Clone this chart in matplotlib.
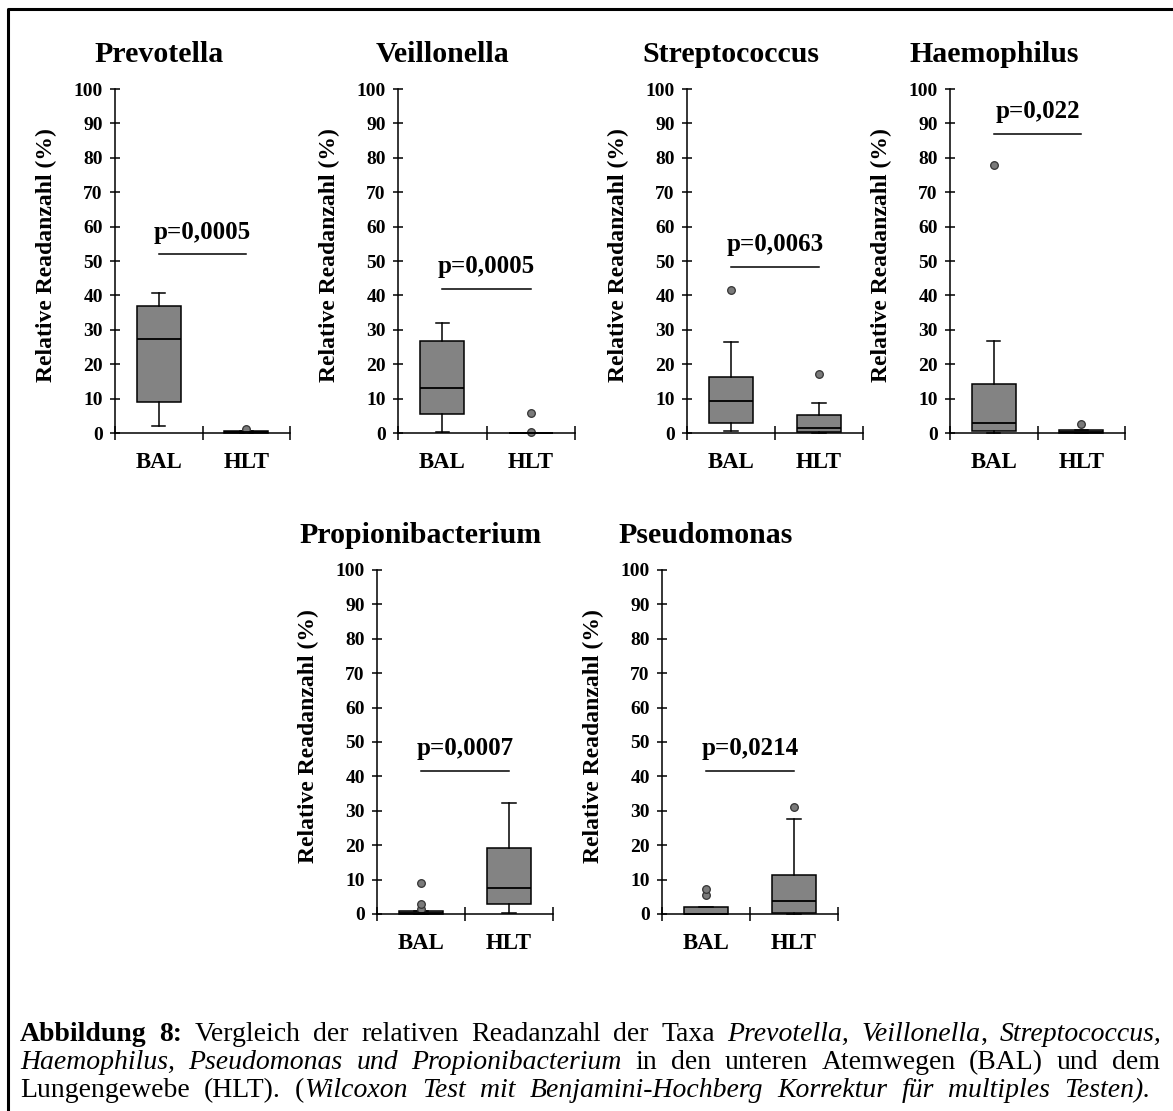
import matplotlib
matplotlib.use('Agg')
import matplotlib.pyplot as plt
from matplotlib.lines import Line2D
from matplotlib.transforms import blended_transform_factory

plt.rcParams['font.family'] = ['Liberation Serif', 'DejaVu Serif']

# ---------------- data ----------------
taxa = ["Prevotella", "Veillonella", "Streptococcus", "Haemophilus",
        "Propionibacterium", "Pseudomonas"]
groups = ["BAL", "HLT"]
p_labels = ["p=0,0005", "p=0,0005", "p=0,0063", "p=0,022", "p=0,0007", "p=0,0214"]
p_line_y = [52, 42, 48.3, 87, 41.6, 41.6]

# [whislo, q1, med, q3, whishi]
bal_stats = [
    [2.0, 9.1, 27.2, 36.9, 40.6],
    [0.3, 5.5, 13.2, 26.6, 31.9],
    [0.5, 2.9, 9.2, 16.3, 26.5],
    [0.0, 0.5, 3.0, 14.3, 26.7],
    [0.0, 0.0, 0.2, 1.0, 1.0],
    [0.0, 0.0, 0.1, 1.9, 1.9],
]
hlt_stats = [
    [0.0, 0.0, 0.2, 0.5, 0.5],
    [0.0, 0.0, 0.0, 0.0, 0.0],
    [0.0, 0.3, 1.4, 5.3, 8.7],
    [0.0, 0.0, 0.2, 1.0, 1.0],
    [0.4, 2.8, 7.6, 19.1, 32.4],
    [0.0, 0.3, 3.8, 11.3, 27.6],
]
bal_fliers = [[], [], [41.7], [78.0], [1.5, 3.0, 9.0], [5.4, 7.4]]
hlt_fliers = [[1.2], [0.3, 5.9], [17.2], [2.5], [], [31.0]]

yticks = list(range(0, 101, 10))
ylabel = "Relative Readanzahl (%)"

caption_lines = [
    [("Abbildung 8:", "b"), (" Vergleich der relativen Readanzahl der Taxa ", "r"),
     ("Prevotella, Veillonella", "i"), (", ", "r"), ("Streptococcus,", "i")],
    [("Haemophilus, Pseudomonas und Propionibacterium", "i"),
     (" in den unteren Atemwegen (BAL) und dem", "r")],
    [("Lungengewebe (HLT). (", "r"),
     ("Wilcoxon Test mit Benjamini-Hochberg Korrektur für multiples Testen).", "i")],
]

# ---------------- layout ----------------
W, H = 1173, 1111
fig = plt.figure(figsize=(W / 100, H / 100), dpi=100)

# (left px, y of zero px, width px)
axes_px = [(115, 433, 175), (398, 433, 177), (687, 433, 176), (950, 433, 175),
           (377, 914, 176), (662, 914, 176)]
AX_H = 344

for i, (x0, y0, w) in enumerate(axes_px):
    ax = fig.add_axes([x0 / W, 1 - y0 / H, w / W, AX_H / H])
    stats = []
    for s, fl, g in ((bal_stats[i], bal_fliers[i], groups[0]),
                     (hlt_stats[i], hlt_fliers[i], groups[1])):
        stats.append(dict(whislo=s[0], q1=s[1], med=s[2], q3=s[3], whishi=s[4],
                          fliers=fl, label=g))
    art = ax.bxp(stats, positions=[0.5, 1.5], widths=0.5, patch_artist=True,
                 showfliers=True, manage_ticks=False, capwidths=0.15,
                 boxprops=dict(facecolor='#838383', edgecolor='black', linewidth=1.1),
                 medianprops=dict(color='black', linewidth=1.3),
                 whiskerprops=dict(color='black', linewidth=1.1),
                 capprops=dict(color='black', linewidth=1.1),
                 flierprops=dict(marker='o', markersize=5.5, markerfacecolor='#7a7a7a',
                                 markeredgecolor='#333333', markeredgewidth=0.9))
    for k, lst in art.items():
        for a in lst:
            a.set_clip_on(False)

    ax.set_xlim(0, 2)
    ax.set_ylim(0, 100)
    ax.spines['top'].set_visible(False)
    ax.spines['right'].set_visible(False)
    for sp in ('left', 'bottom'):
        ax.spines[sp].set_linewidth(1.1)

    ax.set_yticks(yticks)
    ax.set_yticklabels([str(v) for v in yticks])
    ax.tick_params(axis='y', direction='inout', length=7.5, width=1.1, pad=5,
                   labelsize=14)
    ax.set_xticks([0, 1, 2])
    ax.set_xticklabels([])
    ax.tick_params(axis='x', which='major', direction='inout', length=9.5, width=1.1)
    ax.set_xticks([0.5, 1.5], minor=True)
    ax.set_xticklabels(groups, minor=True)
    ax.tick_params(axis='x', which='minor', length=0, pad=14, labelsize=16.5)
    for lab in ax.get_yticklabels() + ax.get_xticklabels(minor=True):
        lab.set_fontweight('bold')

    ax.set_ylabel(ylabel, fontsize=17, fontweight='bold')
    ax.yaxis.set_label_coords(-69 / w, 0.517)
    ax.yaxis.label.set_va('center')

    # significance bar
    ax.plot([0.5, 1.5], [p_line_y[i], p_line_y[i]], color='black', lw=1.1)
    ax.text(1.0, p_line_y[i] + 4.5, p_labels[i], ha='center', va='baseline',
            fontsize=18, fontweight='bold')

    tr = blended_transform_factory(ax.transData, ax.transAxes)
    ax.text(0.5, 1.099, taxa[i], transform=tr, ha='center', va='center',
            fontsize=21.5, fontweight='bold')

# outer frame (left and top edges visible)
fig.add_artist(Line2D([8 / W, 8 / W, (W + 20) / W], [-0.02, 1 - 8.5 / H, 1 - 8.5 / H],
                      transform=fig.transFigure, color='black', lw=2.2))

# ---------------- caption (justified) ----------------
renderer = fig.canvas.get_renderer()
CAP_FS = 20
styles = {'b': dict(fontweight='bold'), 'i': dict(fontstyle='italic'), 'r': {}}
baselines = [1041, 1069, 1097]
x_left = 20
x_rights = [1162, 1160, 1150]


def split_words(segs):
    words, cur = [], []
    for txt, st in segs:
        parts = txt.split(' ')
        for j, p in enumerate(parts):
            if j > 0 and cur:
                words.append(cur)
                cur = []
            if p:
                cur.append((p, st))
    if cur:
        words.append(cur)
    return words


for li, segs in enumerate(caption_lines):
    words = split_words(segs)
    items = []
    total = 0.0
    for wd in words:
        pieces = []
        for txt, st in wd:
            t = fig.text(0, 1 - baselines[li] / H, txt, fontsize=CAP_FS, va='baseline',
                         ha='left', **styles[st])
            wpx = t.get_window_extent(renderer).width
            pieces.append((t, wpx))
            total += wpx
        items.append(pieces)
    space = CAP_FS * 100 / 72 * 0.25
    gap = (x_rights[li] - x_left - total) / (len(items) - 1)
    gap = max(gap, space * 0.6)
    x = x_left
    for pieces in items:
        for t, wpx in pieces:
            t.set_x(x / W)
            x += wpx
        x += gap

fig.savefig('out.png', dpi=100)
